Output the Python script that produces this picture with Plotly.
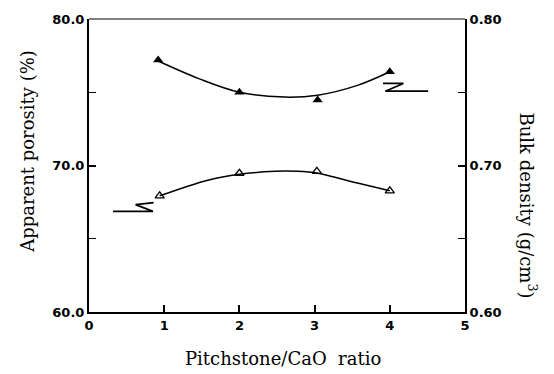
import plotly.graph_objects as go

# ---- data ----
ratio_open = [0.94, 2.0, 3.03, 4.0]
porosity = [67.93, 69.47, 69.6, 68.27]

ratio_filled = [0.92, 2.0, 3.04, 4.0]
density = [0.772, 0.750, 0.7447, 0.764]

curve_por_x = [0.94, 1.58, 2.0, 2.47, 2.77, 3.04, 3.57, 4.0]
curve_por_y = [67.93, 69.0, 69.4, 69.6, 69.6, 69.47, 68.8, 68.27]

curve_den_x = [0.92, 1.46, 2.0, 2.6, 3.04, 3.57, 4.0]
curve_den_y = [0.7713, 0.7593, 0.750, 0.7467, 0.748, 0.7547, 0.764]

# axis-pointer break symbols
brk_left_x = [0.32, 0.85, 0.62, 0.86]
brk_left_y = [66.87, 66.87, 67.33, 67.47]
brk_right_x = [4.51, 3.94, 4.18, 3.91]
brk_right_y = [0.7507, 0.7507, 0.756, 0.756]

x_ticks = [0, 1, 2, 3, 4, 5]
y_ticks = [60, 70, 80]
y2_ticks = [0.60, 0.70, 0.80]

fig = go.Figure()

fig.add_trace(go.Scatter(x=curve_por_x, y=curve_por_y, mode="lines",
                         line=dict(color="black", width=1.5, shape="spline", smoothing=1),
                         showlegend=False, hoverinfo="skip"))
fig.add_trace(go.Scatter(x=ratio_open, y=porosity, mode="markers",
                         marker=dict(symbol="triangle-up-open", size=8, color="black",
                                     line=dict(width=1.3, color="black")),
                         showlegend=False))
fig.add_trace(go.Scatter(x=brk_left_x, y=brk_left_y, mode="lines",
                         line=dict(color="black", width=1.8), showlegend=False, hoverinfo="skip"))

fig.add_trace(go.Scatter(x=curve_den_x, y=curve_den_y, mode="lines", yaxis="y2",
                         line=dict(color="black", width=1.5, shape="spline", smoothing=1),
                         showlegend=False, hoverinfo="skip"))
fig.add_trace(go.Scatter(x=ratio_filled, y=density, mode="markers", yaxis="y2",
                         marker=dict(symbol="triangle-up", size=9, color="black"),
                         showlegend=False))
fig.add_trace(go.Scatter(x=brk_right_x, y=brk_right_y, mode="lines", yaxis="y2",
                         line=dict(color="black", width=1.8), showlegend=False, hoverinfo="skip"))

tickfont = dict(family="DejaVu Sans", size=13, color="black", weight="bold")
title_font = dict(family="DejaVu Serif", size=18, color="black")

fig.update_layout(
    width=554, height=374,
    margin=dict(l=89, r=89, t=12, b=62),
    paper_bgcolor="white", plot_bgcolor="white",
    font=dict(family="DejaVu Serif"),
    xaxis=dict(range=[0, 5], tickvals=x_ticks, ticks="inside", ticklen=7, tickwidth=1.5,
               tickcolor="black", showline=True, linewidth=2, linecolor="black",
               showgrid=False, zeroline=False, tickfont=tickfont),
    yaxis=dict(range=[60, 80], tickvals=y_ticks, tickformat=".1f", ticks="inside",
               ticklen=7, tickwidth=1.5, tickcolor="black",
               minor=dict(tickvals=[65, 75], ticks="inside", ticklen=7, tickcolor="black", tickwidth=1.2),
               showline=True, linewidth=2, linecolor="black",
               showgrid=False, zeroline=False, tickfont=tickfont),
    yaxis2=dict(range=[0.6, 0.8], tickvals=y2_ticks, tickformat=".2f", ticks="inside",
                ticklen=7, tickwidth=1.5, tickcolor="black",
                minor=dict(tickvals=[0.65, 0.75], ticks="inside", ticklen=7, tickcolor="black", tickwidth=1.2),
                overlaying="y", side="right",
                showline=True, linewidth=2, linecolor="black",
                showgrid=False, zeroline=False, tickfont=tickfont),
    shapes=[dict(type="line", xref="paper", yref="paper", x0=0, x1=1, y0=1, y1=1,
                 line=dict(color="black", width=1))],
    annotations=[
        dict(text="Apparent porosity (%)", xref="paper", yref="paper",
             x=-61 / 376, y=(312 - 148) / 300, textangle=-90, showarrow=False,
             font=title_font, xanchor="center", yanchor="middle"),
        dict(text="Bulk density (g/cm<sup>3</sup>)", xref="paper", yref="paper",
             x=(528 - 89) / 376, y=(312 - 203) / 300, textangle=90, showarrow=False,
             font=title_font, xanchor="center", yanchor="middle"),
        dict(text="Pitchstone/CaO  ratio", xref="paper", yref="paper",
             x=(283 - 89) / 376, y=-(360 - 312) / 300, showarrow=False,
             font=title_font, xanchor="center", yanchor="middle"),
    ],
)

fig.write_html("out.html")
